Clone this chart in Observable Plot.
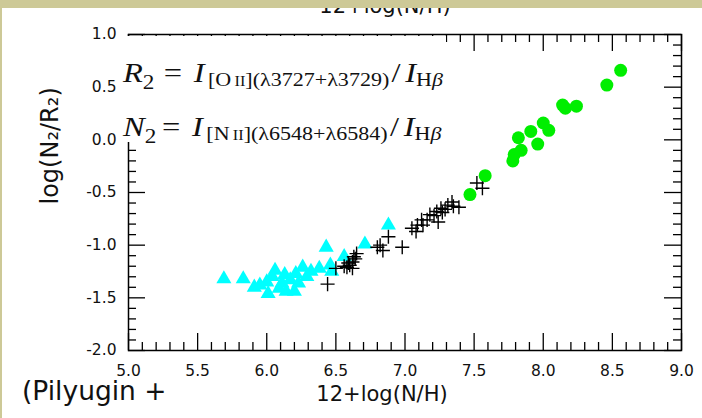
<!DOCTYPE html>
<html><head><meta charset="utf-8">
<script src="https://cdn.jsdelivr.net/npm/d3@7"></script>
<script src="https://cdn.jsdelivr.net/npm/@observablehq/plot@0.6"></script>
<style>
body{margin:0;background:#fff;}
#wrap{position:relative;width:702px;height:418px;overflow:hidden;font-family:"DejaVu Sans",sans-serif;background:#fff;}
#chart{position:absolute;left:0;top:0;}
.bar-top{position:absolute;left:0;top:0;width:702px;height:8px;background:#cdc997;z-index:5;}
.bar-left{position:absolute;left:0;top:0;width:2px;height:418px;background:#cdc997;z-index:5;}
.cut{position:absolute;left:285px;width:200px;top:-4px;text-align:center;font-size:21px;line-height:20px;color:#111;}
.cap{position:absolute;left:22px;top:381px;font-size:26.5px;line-height:20px;color:#111;white-space:nowrap;}
.eqbox{position:absolute;left:117px;top:36px;width:329px;height:106px;background:#fff;}
.eqline{position:absolute;left:6px;font-family:"Liberation Serif","Times New Roman",serif;font-size:28px;line-height:28px;white-space:nowrap;transform:scaleX(1.16);transform-origin:0 0;color:#111;}
.eqline .s{font-size:19px;position:relative;top:4px;}
.eqline .r2{font-size:20px;position:relative;top:7px;}
.eqline .sc{font-size:14px;}
</style></head>
<body>
<div id="wrap">
  <div id="chart"></div>
  <div class="cut">12+log(N/H)</div>
  <div class="eqbox">
    <div class="eqline" style="top:23px"><i>R</i><span class="r2">2</span><span style="margin-left:8px">=</span><i style="margin-left:10px">I</i><span class="s" style="margin-left:3px">[O<span class="sc">&thinsp;II</span>](λ3727+λ3729)</span><span style="margin-left:2px">/</span><i style="margin-left:4px">I</i><span class="s">H<i>β</i></span></div>
    <div class="eqline" style="top:77px"><i>N</i><span class="r2">2</span><span style="margin-left:5px">=</span><i style="margin-left:10px">I</i><span class="s" style="margin-left:3px">[N<span class="sc">&thinsp;II</span>](λ6548+λ6584)</span><span style="margin-left:2px">/</span><i style="margin-left:4px">I</i><span class="s">H<i>β</i></span></div>
  </div>
  <div class="cap">(Pilyugin +</div>
  <div class="bar-top"></div>
  <div class="bar-left"></div>
</div>
<script>
// ---- data ----
const xTickValues = [5.0, 5.5, 6.0, 6.5, 7.0, 7.5, 8.0, 8.5, 9.0];
const yTickValues = [-2.0, -1.5, -1.0, -0.5, 0.0, 0.5, 1.0];
const xLabel = "12+log(N/H)";
const yLabel = "log(N₂/R₂)";

const greenX = [8.56, 8.46, 8.14, 8.16, 8.24, 8.00, 8.04, 7.91, 7.82, 7.96, 7.84, 7.79, 7.78, 7.58, 7.47];
const greenY = [0.66, 0.52, 0.33, 0.30, 0.32, 0.16, 0.09, 0.08, 0.02, -0.04, -0.10, -0.14, -0.20, -0.34, -0.52];

const crossX = [7.52, 7.56, 7.39, 7.35, 7.31, 7.29, 7.26, 7.23, 7.24, 7.21, 7.16, 7.12, 7.13, 7.09, 7.05, 7.08, 7.18, 7.34, 7.27,
                6.88, 6.82, 6.80, 6.84, 6.98, 6.65, 6.63, 6.62, 6.59, 6.58, 6.62, 6.50, 6.44, 6.64, 6.60, 6.56];
const crossY = [-0.41, -0.46, -0.64, -0.63, -0.62, -0.66, -0.65, -0.68, -0.78, -0.72, -0.76, -0.76, -0.81, -0.81, -0.84, -0.87, -0.71, -0.59, -0.69,
                -0.92, -1.00, -1.02, -1.05, -1.02, -1.08, -1.11, -1.16, -1.17, -1.21, -1.22, -1.22, -1.37, -1.13, -1.19, -1.20];

const cyanX = [6.43, 6.71, 6.88, 6.56, 5.69, 5.83, 5.91, 5.95, 6.00, 6.01, 6.06, 6.09, 6.13, 6.14, 6.17, 6.20, 6.21, 6.23, 6.26, 6.29, 6.32, 6.38, 6.46, 6.47, 6.04, 6.11];
const cyanY = [-1.02, -0.99, -0.81, -1.11, -1.32, -1.32, -1.40, -1.38, -1.35, -1.46, -1.24, -1.41, -1.28, -1.44, -1.33, -1.44, -1.27, -1.36, -1.21, -1.30, -1.25, -1.22, -1.19, -1.25, -1.30, -1.36];

// ---- build ----
const green = greenX.map((x, i) => ({x, y: greenY[i]}));
const cross = crossX.map((x, i) => ({x, y: crossY[i]}));
const cyan = cyanX.map((x, i) => ({x, y: cyanY[i]}));

const W = 702, H = 418, mL = 128, mR = 21, mT = 34, mB = 68;
const FW = W - mL - mR, FH = H - mT - mB;
const MAJ = 17, MIN = 8;
const xMinor = d3.range(50, 91).map(d => d / 10).filter(d => !xTickValues.some(t => Math.abs(t - d) < 1e-9));
const yMinor = d3.range(-20, 11).map(d => d / 10).filter(d => !yTickValues.some(t => Math.abs(t - d) < 1e-9));
const fmt = d => d.toFixed(1);
const tk = {stroke: "black", strokeWidth: 1.3};

const chart = Plot.plot({
  width: W, height: H,
  marginLeft: mL, marginRight: mR, marginTop: mT, marginBottom: mB,
  style: {fontFamily: "DejaVu Sans", background: "transparent", color: "#111"},
  x: {domain: [5, 9], label: null},
  y: {domain: [-2, 1], label: null},
  marks: [
    Plot.frame({stroke: "black", strokeWidth: 1.5}),
    Plot.tickX(xTickValues, {x: d => d, insetTop: FH - MAJ, ...tk}),
    Plot.tickX(xMinor, {x: d => d, insetTop: FH - MIN, ...tk}),
    Plot.tickX(xTickValues, {x: d => d, insetBottom: FH - MAJ, ...tk}),
    Plot.tickX(xMinor, {x: d => d, insetBottom: FH - MIN, ...tk}),
    Plot.tickY(yTickValues, {y: d => d, insetRight: FW - MAJ, ...tk}),
    Plot.tickY(yMinor, {y: d => d, insetRight: FW - MIN, ...tk}),
    Plot.tickY(yTickValues, {y: d => d, insetLeft: FW - MAJ, ...tk}),
    Plot.tickY(yMinor, {y: d => d, insetLeft: FW - MIN, ...tk}),
    Plot.axisX({ticks: xTickValues, tickSize: 0, tickPadding: 14, tickFormat: fmt, fontSize: 15.5, label: null}),
    Plot.axisY({ticks: yTickValues, tickSize: 0, tickPadding: 12, tickFormat: fmt, fontSize: 15.5, label: null}),
    Plot.dot(cyan, {x: "x", y: "y", symbol: "triangle", r: 5.6, fill: "#00ffff", stroke: "none"}),
    Plot.dot(green, {x: "x", y: "y", symbol: "circle", r: 6.5, fill: "#00ee00", stroke: "none"}),
    Plot.dot(cross, {x: "x", y: "y", symbol: "plus", r: 4.6, stroke: "black", strokeWidth: 1.4}),
    Plot.text([xLabel], {text: d => d, frameAnchor: "bottom", dx: -23, dy: 50, fontSize: 21, fill: "#111"}),
    Plot.text([yLabel], {text: d => d, frameAnchor: "left", rotate: -90, dx: -78, dy: 12, fontSize: 24, fill: "#111"})
  ]
});
document.getElementById("chart").appendChild(chart);
</script>
</body></html>
